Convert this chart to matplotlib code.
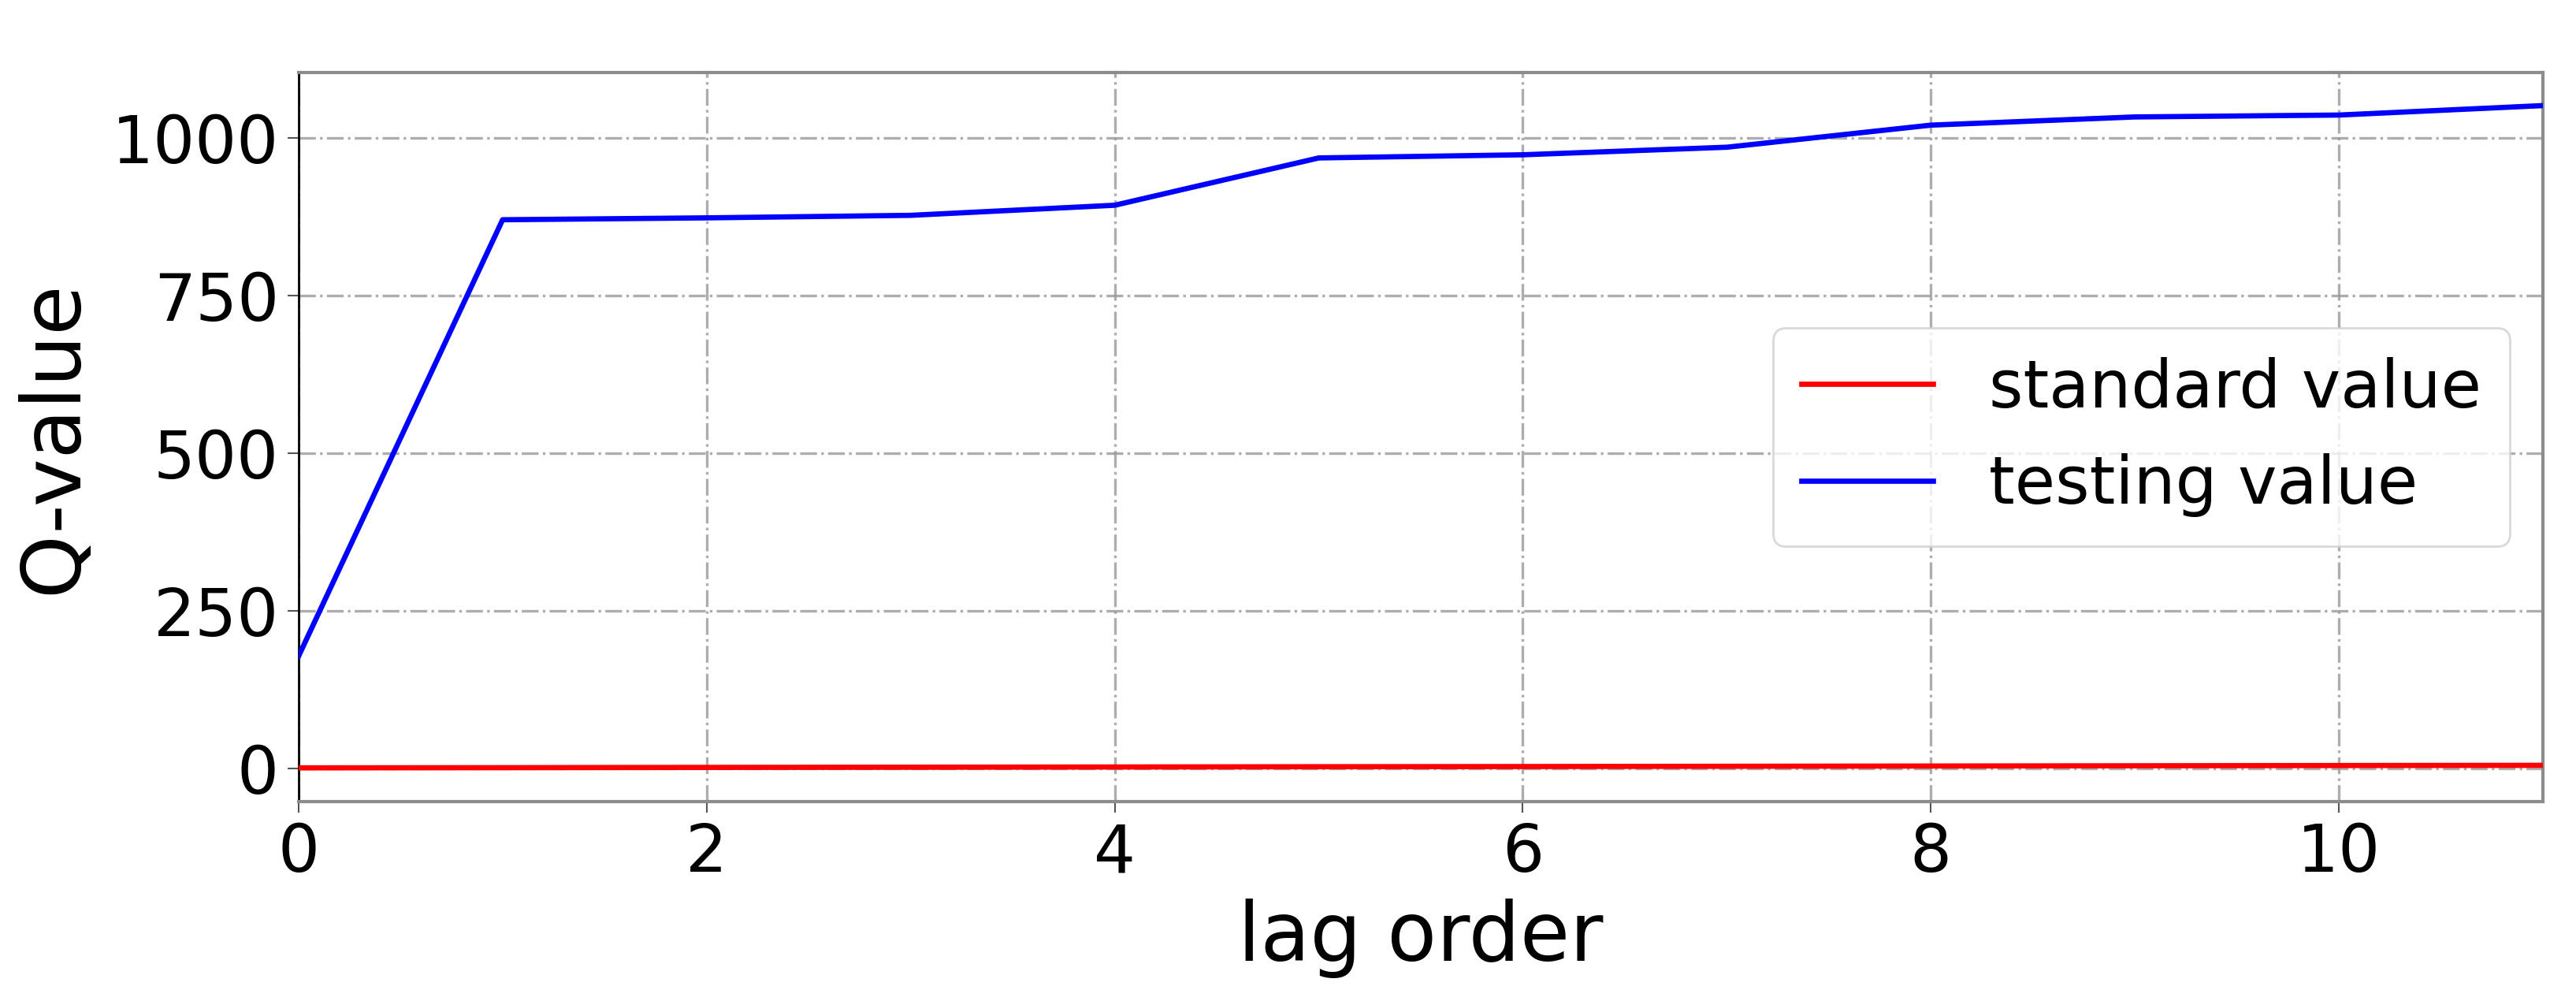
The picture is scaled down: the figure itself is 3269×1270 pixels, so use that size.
import numpy as np
import matplotlib
matplotlib.use("Agg")
import matplotlib.pyplot as plt

# lag orders and Q statistics
lags = [0, 1, 2, 3, 4, 5, 6, 7, 8, 9, 10, 11]
standard_value = [1.0, 1.3, 1.7, 2.0, 2.4, 2.8, 3.1, 3.5, 3.9, 4.3, 4.7, 5.0]
testing_value = [178, 870, 873, 877, 893, 968, 973, 985, 1020, 1033, 1036, 1051]

x_ticks = [0, 2, 4, 6, 8, 10]
y_ticks = [0, 250, 500, 750, 1000]

fig = plt.figure(figsize=(32.69, 12.7), dpi=100)
ax = fig.add_axes([0.1159, 0.1992, 0.8713, 0.7284])

ax.plot(lags, standard_value, color="red", lw=4.8, label="standard value", zorder=3)
ax.plot(lags, testing_value, color="blue", lw=4.8, label="testing value", zorder=3)

ax.set_xlim(0, 11)
ax.set_ylim(-52.5, 1103.5)
ax.set_xticks(x_ticks)
ax.set_yticks(y_ticks)

ax.grid(True, linestyle="-.", color="#999999", lw=2.4, alpha=0.8)
ax.set_axisbelow(True)

for side in ["top", "right", "bottom"]:
    ax.spines[side].set_color("#8c8c8c")
    ax.spines[side].set_linewidth(3)
ax.spines["left"].set_color("black")
ax.spines["left"].set_linewidth(2)

ax.tick_params(axis="both", labelsize=60, length=10, width=1.5, color="#555555", pad=8)

ax.set_xlabel("lag order", fontsize=74, labelpad=12)
ax.set_ylabel("Q-value", fontsize=74, labelpad=16)

leg = ax.legend(loc="center right", fontsize=60, fancybox=True, framealpha=0.8,
                handlelength=2.0, handletextpad=0.85, borderpad=0.44, labelspacing=0.5)
leg.get_frame().set_edgecolor("#d0d0d0")
leg.get_frame().set_linewidth(2)

plt.savefig("out.png", dpi=100)
